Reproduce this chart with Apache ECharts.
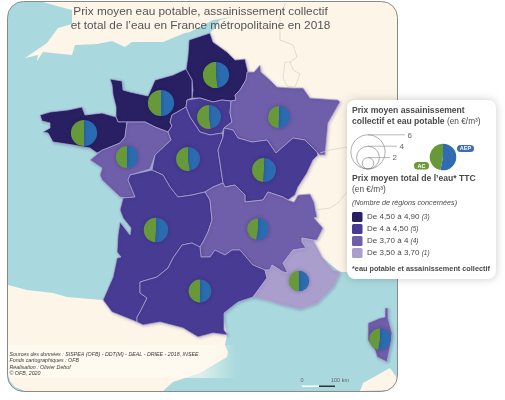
<!DOCTYPE html>
<html>
<head>
<meta charset="utf-8">
<style>html,body{margin:0;padding:0;background:#fff}#chart{width:505px;height:400px}</style>
<script src="https://cdn.jsdelivr.net/npm/echarts@6/dist/echarts.min.js"></script>
</head>
<body>
<div id="chart"></div>
<script>
// values (euro/m3)
const regionNames = ['Hauts-de-France', 'Normandie', 'Bretagne', 'Ile-de-France', 'Grand Est', 'Pays de la Loire', 'Centre-Val de Loire', 'Bourgogne-Franche-Comte', 'Nouvelle-Aquitaine', 'Auvergne-Rhone-Alpes', 'Occitanie', 'PACA', 'Corse'];
const aepValues = [2.2, 2.3, 2.3, 2.0, 1.95, 1.95, 2.0, 2.15, 2.2, 2.0, 2.0, 1.8, 2.0];
const acValues = [2.4, 2.3, 2.3, 2.2, 1.9, 1.95, 2.2, 2.05, 2.1, 1.8, 2.0, 1.8, 1.8];
const priceClass = [0, 0, 0, 1, 2, 2, 1, 1, 1, 2, 1, 3, 2];

const classColors = ['#282063', '#483b93', '#6f5ea9', '#aa9ecd'];
const classLabels = ['De 4,50 à 4,90', 'De 4 à 4,50', 'De 3,70 à 4', 'De 3,50 à 3,70'];
const classCounts = ['(3)', '(5)', '(4)', '(1)'];
const sizeTicks = [6, 4, 2];
const legendPie = [53, 47];
const sourceLines = [
    'Sources des données : SISPEA (OFB) - DDT(M) - DEAL - DRIEE - 2018, INSEE',
    'Fonds cartographiques : OFB',
    'Réalisation : Olivier Debuf',
    '© OFB, 2020'
];

// map outlines, traced in picture pixels
const regionShapes = {
    'Hauts-de-France': [[189,40],[210,33],[213,42],[227,52],[235,60],[245,59],[248,72],[246,80],[240,90],[235,95],[236,100],[231,101],[222,100],[213,102],[200,98],[192,98],[193,90],[192,80],[186,70],[188,55]],
    'Normandie': [[110,79],[122,81],[123,90],[130,92],[148,96],[155,80],[173,75],[186,69],[192,80],[192,98],[187,100],[186,107],[172,115],[170,122],[172,126],[168,132],[155,127],[145,122],[127,122],[118,122],[116,117],[116,107],[113,95],[112,85]],
    'Bretagne': [[40,115],[50,112],[68,110],[82,107],[85,115],[102,113],[116,117],[118,122],[127,122],[125,137],[120,143],[108,148],[97,153],[90,148],[73,145],[53,142],[48,133],[43,132],[50,128],[50,123],[42,121]],
    'Ile-de-France': [[187,100],[200,98],[213,102],[222,100],[231,101],[230,113],[232,122],[224,128],[222,133],[210,135],[200,132],[190,117],[186,107]],
    'Grand Est': [[247,72],[254,72],[260,65],[261,72],[270,80],[277,87],[293,88],[303,88],[310,98],[338,100],[340,102],[328,123],[325,155],[320,155],[317,152],[305,140],[293,138],[285,145],[276,153],[267,140],[252,142],[238,138],[233,130],[224,128],[232,122],[230,113],[231,101],[236,100],[235,95],[240,90],[246,80]],
    'Pays de la Loire': [[127,122],[145,122],[155,127],[168,132],[171,140],[155,155],[150,169],[130,175],[128,180],[135,197],[125,198],[120,197],[102,180],[100,175],[102,168],[90,160],[102,150],[108,148],[120,143],[125,137]],
    'Centre-Val de Loire': [[172,115],[186,107],[190,117],[200,132],[210,135],[222,133],[223,137],[218,150],[220,163],[223,183],[213,187],[205,192],[192,195],[178,197],[170,187],[163,175],[152,170],[155,155],[171,140],[168,132],[172,126],[170,122]],
    'Bourgogne-Franche-Comte': [[223,137],[224,128],[233,130],[238,138],[252,142],[267,140],[276,153],[285,145],[293,138],[305,140],[317,152],[318,155],[313,160],[307,173],[298,187],[295,195],[288,200],[283,197],[268,192],[263,200],[245,202],[245,195],[238,188],[235,185],[225,187],[223,183],[220,163],[218,150]],
    'Nouvelle-Aquitaine': [[123,198],[135,197],[128,180],[130,175],[152,170],[163,175],[170,187],[178,197],[192,195],[205,192],[210,200],[212,220],[208,232],[203,242],[200,247],[192,243],[182,245],[173,258],[168,268],[157,277],[140,282],[140,293],[147,298],[140,312],[137,317],[137,322],[112,312],[103,300],[113,277],[117,258],[121,257],[117,252],[118,235],[120,222],[130,235],[131,228],[123,218],[120,210],[122,202]],
    'Auvergne-Rhone-Alpes': [[223,183],[225,187],[235,185],[238,188],[245,195],[245,202],[263,200],[268,192],[283,197],[288,200],[294,202],[298,195],[310,194],[314,202],[317,217],[314,218],[323,228],[317,240],[313,240],[302,238],[302,242],[306,248],[293,250],[283,263],[288,273],[283,272],[272,265],[270,270],[265,270],[253,265],[240,250],[232,250],[225,255],[215,250],[210,257],[201,257],[200,247],[203,242],[208,232],[212,220],[210,200],[205,192],[213,187]],
    'Occitanie': [[182,245],[192,243],[200,247],[201,257],[210,257],[215,250],[225,255],[232,250],[240,250],[253,265],[265,270],[267,278],[253,297],[238,302],[224,313],[224,330],[228,335],[213,333],[198,337],[183,328],[160,322],[143,325],[137,322],[137,317],[140,312],[147,298],[140,293],[140,282],[157,277],[168,268],[173,258]],
    'PACA': [[302,238],[313,240],[322,257],[333,270],[340,272],[333,287],[317,303],[300,309],[283,305],[267,300],[253,297],[267,278],[265,270],[270,270],[272,265],[283,272],[288,273],[283,263],[293,250],[306,248],[302,242]],
    'Corse': [[385,308],[388,308],[388,318],[392,333],[390,347],[387,362],[377,357],[375,350],[368,340],[368,323],[380,318],[385,317]]
};
const landShapes = {
    page: [[0,0],[505,0],[505,400],[0,400]], // keeps the map extent equal to the window
    north: [[25,58],[47,43],[58,28],[72,24],[72,10],[57,6],[43,2],[385,2],[392,4],[396,9],[397,16],[397,265],[350,272],[340,272],[250,200],[212,60],[210,33],[215,28],[220,20],[232,17],[213,20],[190,32],[185,33],[163,42],[132,42],[125,47],[112,41],[97,44],[75,45],[72,55],[43,52],[37,61],[38,55]],
    south: [[8,285],[27,290],[53,293],[67,297],[102,300],[150,300],[224,320],[227,335],[225,345],[228,352],[227,357],[200,373],[173,382],[163,391],[25,391],[15,387],[10,381],[8,372]],
    sardinia: [[390,368],[397,378],[397,385],[392,390],[360,391],[363,383]]
};
const borderLines = [
    [[285,3],[285,5],[280,15],[280,40],[293,45],[297,57],[290,62]],
    [[285,62],[283,78],[287,86],[295,87],[300,74],[293,70],[290,62],[285,62]],
    [[320,153],[330,150],[347,147]],
    [[315,210],[330,208],[338,203],[347,192]]
];
const pieCenters = [[216,75],[161,103],[84,133],[209,117],[279,117],[127,157],[188,159],[264,170],[156,230],[258,229],[200,291],[299,281],[380,339]];

const pxPerEuro = 2.85;
const flip = function (p) { return [p[0], 400 - p[1]]; };
const closeRing = function (ring) { return ring.map(flip).concat([flip(ring[0])]); };

const features = [];
Object.keys(landShapes).concat(regionNames).forEach(function (name) {
    const ring = landShapes[name] || regionShapes[name];
    features.push({ type: 'Feature', properties: { name: name }, geometry: { type: 'Polygon', coordinates: [closeRing(ring)] } });
});
echarts.registerMap('france', { type: 'FeatureCollection', features: features });

const chart = echarts.init(document.getElementById('chart'), null, { renderer: 'canvas' });

const regionStyles = Object.keys(landShapes).map(function (name) {
    return { name: name, itemStyle: { areaColor: name === 'page' ? 'rgba(0,0,0,0)' : '#fdf6e8', borderWidth: 0 } };
}).concat(regionNames.map(function (name, i) {
    return { name: name, itemStyle: { areaColor: classColors[priceClass[i]], borderColor: '#b5acd8', borderWidth: 0.7, shadowBlur: 3, shadowOffsetX: 1, shadowOffsetY: 1, shadowColor: 'rgba(50,40,100,0.25)' } };
}));

const pieSeries = regionNames.map(function (name, i) {
    return {
        name: name,
        type: 'pie',
        coordinateSystem: 'geo',
        geoIndex: 0,
        center: flip(pieCenters[i]),
        radius: (aepValues[i] + acValues[i]) * pxPerEuro,
        startAngle: 90,
        silent: true,
        animation: false,
        label: { show: false },
        labelLine: { show: false },
        itemStyle: { shadowBlur: 4, shadowColor: 'rgba(30,20,80,0.3)' },
        data: [
            { value: aepValues[i], name: 'AEP', itemStyle: { color: '#2b6cb1' } },
            { value: acValues[i], name: 'AC', itemStyle: { color: '#67993a' } }
        ]
    };
});

const legendPieSeries = {
    type: 'pie',
    center: [443, 157],
    radius: 13.3,
    startAngle: 90,
    silent: true,
    animation: false,
    z: 60,
    label: { show: false },
    labelLine: { show: false },
    data: [
        { value: legendPie[0], name: 'AEP', itemStyle: { color: '#2f6cb3' } },
        { value: legendPie[1], name: 'AC', itemStyle: { color: '#67993a' } }
    ]
};

const FONT = '"Liberation Sans", Arial, sans-serif';
const textEl = function (x, y, text, size, extra) {
    return {
        type: 'text', x: x, y: y, z: 55, silent: true,
        style: Object.assign({ text: text, fontFamily: FONT, fontSize: size, fill: '#4a4a4a', textVerticalAlign: 'middle' }, extra || {})
    };
};

const graphics = [
    // sea and frame
    { type: 'rect', z: -10, silent: true, shape: { x: 7.5, y: 1.5, width: 390, height: 390, r: 16 }, style: { fill: '#a9d9de' } },
    { type: 'rect', z: 40, silent: true, shape: { x: 8, y: 345, width: 228, height: 33 },
        style: { fill: new echarts.graphic.LinearGradient(0, 0, 1, 0, [{ offset: 0, color: 'rgba(255,252,244,0.6)' }, { offset: 0.85, color: 'rgba(255,252,244,0.6)' }, { offset: 1, color: 'rgba(255,252,244,0)' }]) } },
    { type: 'rect', z: 45, silent: true, shape: { x: 7.5, y: 1.5, width: 390, height: 390, r: 16 }, style: { fill: 'none', stroke: '#8b8b86', lineWidth: 1 } },
    // legend box
    { type: 'rect', z: 50, silent: true, shape: { x: 347, y: 100, width: 149, height: 179, r: 8 }, style: { fill: '#fff', shadowBlur: 8, shadowColor: 'rgba(0,0,0,0.2)' } },
    textEl(352, 111, 'Prix moyen assainissement', 8.6, { fontWeight: 'bold' }),
    textEl(352, 121.5, '{b|collectif et eau potable} (en €/m³)', 8.3, { rich: { b: { fontWeight: 'bold', fontSize: 8.6, fontFamily: FONT, fill: '#4a4a4a' } } }),
    textEl(352, 179, 'Prix moyen total de l’eau* TTC', 8.6, { fontWeight: 'bold' }),
    textEl(352, 189.5, '(en €/m³)', 8.3),
    textEl(352, 203, '(Nombre de régions concernées)', 7.2, { fontStyle: 'italic' }),
    textEl(352, 269, '*eau potable et assainissement collectif', 7.3, { fontWeight: 'bold' }),
    // badges
    { type: 'rect', z: 54, silent: true, shape: { x: 457, y: 145, width: 17, height: 7, r: 3.5 }, style: { fill: '#3f6db5' } },
    textEl(465.5, 148.7, 'AEP', 5.5, { fill: '#fff', fontWeight: 'bold', textAlign: 'center' }),
    { type: 'rect', z: 54, silent: true, shape: { x: 414, y: 162, width: 15, height: 7.5, r: 3.5 }, style: { fill: '#6f9a3a' } },
    textEl(421.5, 166, 'AC', 5.5, { fill: '#fff', fontWeight: 'bold', textAlign: 'center' }),
    // scale bar
    { type: 'rect', z: 41, silent: true, shape: { x: 302, y: 385.5, width: 17, height: 1.5 }, style: { fill: '#fff' } },
    { type: 'rect', z: 41, silent: true, shape: { x: 319, y: 385.5, width: 16, height: 1.5 }, style: { fill: '#333' } },
    textEl(300.5, 380.5, '0', 5.5, { fill: '#666' }),
    textEl(331, 380.5, '100 km', 5.5, { fill: '#666' })
];

// size circles of the legend
sizeTicks.forEach(function (v, i) {
    const r = v * pxPerEuro;
    const cy = 169 - r;
    const lineEnd = [405, 397, 390][i];
    graphics.push({ type: 'circle', z: 55, silent: true, shape: { cx: 368, cy: cy, r: r }, style: { fill: 'none', stroke: '#777', lineWidth: 0.6 } });
    graphics.push({ type: 'line', z: 55, silent: true, shape: { x1: 368, y1: cy - r, x2: lineEnd, y2: cy - r }, style: { stroke: '#888', lineWidth: 0.6 } });
    graphics.push(textEl(lineEnd + 2.5, cy - r + 0.5, String(v), 8, { fill: '#666' }));
});

// colour classes
classColors.forEach(function (c, i) {
    const y = 217 + i * 12;
    graphics.push({ type: 'rect', z: 55, silent: true, shape: { x: 352, y: y - 5, width: 10.5, height: 10, r: 1.5 }, style: { fill: c } });
    graphics.push(textEl(367, y, classLabels[i] + ' {n|' + classCounts[i] + '}', 8, { rich: { n: { fontStyle: 'italic', fontSize: 6.5, fontFamily: FONT, fill: '#4a4a4a' } } }));
});

sourceLines.forEach(function (line, i) {
    graphics.push(textEl(9.5, 354.5 + i * 6.3, line, 5.3, { fontStyle: 'italic', fill: '#3c3c3c' }));
});

const option = {
    animation: false,
    title: {
        text: 'Prix moyen eau potable, assainissement collectif\net total de l’eau en France métropolitaine en 2018',
        left: 195.5,
        top: -1,
        textAlign: 'center',
        textStyle: { fontFamily: FONT, fontSize: 11.8, fontWeight: 'normal', color: '#555', lineHeight: 14.5 }
    },
    geo: {
        map: 'france',
        silent: true,
        aspectScale: 1,
        left: 0,
        top: 0,
        right: 0,
        bottom: 0,
        roam: false,
        label: { show: false },
        itemStyle: { areaColor: '#fdf6e8', borderWidth: 0 },
        regions: regionStyles
    },
    graphic: { elements: graphics },
    series: pieSeries.concat([legendPieSeries, {
        type: 'lines',
        coordinateSystem: 'geo',
        polyline: true,
        silent: true,
        z: 1,
        lineStyle: { color: '#d6d0c4', width: 0.7, opacity: 1 },
        data: borderLines.map(function (l) { return { coords: l.map(flip) }; })
    }])
};

option && chart.setOption(option);
</script>
</body>
</html>
